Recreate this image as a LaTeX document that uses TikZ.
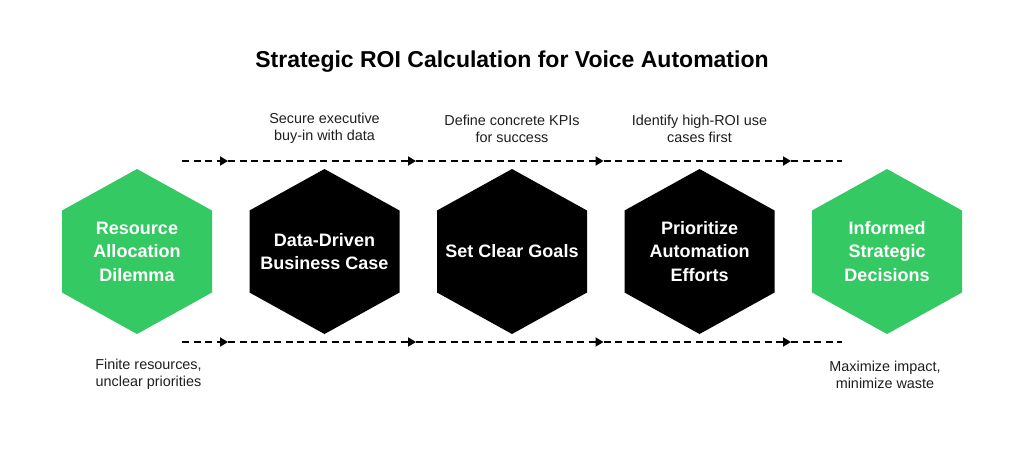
\documentclass[tikz,border=0pt]{standalone}
\usepackage{fontspec}
\setmainfont{Liberation Sans}
\usetikzlibrary{arrows.meta}
\definecolor{hexgreen}{RGB}{52,201,99}
\definecolor{notegray}{RGB}{30,30,30}

\begin{document}
\begin{tikzpicture}[line cap=butt,line join=miter,>={Triangle[length=8pt,width=9pt]},x=1pt,y=-1pt,
    hexlabel/.style={text=white,font=\fontsize{18}{23.5}\selectfont\bfseries,align=center},
    note/.style={text=notegray,font=\fontsize{14.4}{17}\selectfont,align=center},
    flow/.style={->,line width=1.8pt,dash pattern=on 7pt off 4.5pt}]
        \useasboundingbox (0,0) rectangle (1024,451);
        % title
        \node[font=\fontsize{23}{26}\selectfont\bfseries] (title) at (512,62) {Strategic ROI Calculation for Voice Automation};
        % hexagons
        \fill [color=hexgreen] (137,169)-- (212,210.5)-- (212,292.5)-- (137,334)-- (62,292.5)-- (62,210.5)-- cycle;
        \fill [color=black] (324.5,169)-- (399.5,210.5)-- (399.5,292.5)-- (324.5,334)-- (249.5,292.5)-- (249.5,210.5)-- cycle;
        \fill [color=black] (512,169)-- (587,210.5)-- (587,292.5)-- (512,334)-- (437,292.5)-- (437,210.5)-- cycle;
        \fill [color=black] (699.5,169)-- (774.5,210.5)-- (774.5,292.5)-- (699.5,334)-- (624.5,292.5)-- (624.5,210.5)-- cycle;
        \fill [color=hexgreen] (887,169)-- (962,210.5)-- (962,292.5)-- (887,334)-- (812,292.5)-- (812,210.5)-- cycle;
        \node[hexlabel] (dilemma) at (137,251.5) {Resource\\Allocation\\Dilemma};
        \node[hexlabel] (bizcase) at (324.5,251.5) {Data-Driven\\Business Case};
        \node[hexlabel] (goals) at (512,251.5) {Set Clear Goals};
        \node[hexlabel] (prioritize) at (699.5,251.5) {Prioritize\\Automation\\Efforts};
        \node[hexlabel] (decisions) at (887,251.5) {Informed\\Strategic\\Decisions};
        % notes
        \node[note] (bizcasenote) at (324.5,128.5) {Secure executive\\buy-in with data};
        \node[note] (goalsnote) at (512,128.5) {Define concrete KPIs\\for success};
        \node[note] (prioritizenote) at (699.5,128.5) {Identify high-ROI use\\cases first};
        \node[note] (dilemmanote) at (148.5,374.5) {Finite resources,\\unclear priorities};
        \node[note] (decisionsnote) at (885,374.5) {Maximize impact,\\minimize waste};
        % dashed flow lines
        \coordinate (top0) at (182,161);
        \coordinate (top1) at (228,161);
        \coordinate (top2) at (416,161);
        \coordinate (top3) at (603.5,161);
        \coordinate (top4) at (791,161);
        \coordinate (top5) at (842,161);
        \coordinate (bot0) at (182,342);
        \coordinate (bot1) at (228,342);
        \coordinate (bot2) at (416,342);
        \coordinate (bot3) at (603.5,342);
        \coordinate (bot4) at (791,342);
        \coordinate (bot5) at (842,342);
        \draw [flow] (top0)-- (top1);
        \draw [flow] (top1)-- (top2);
        \draw [flow] (top2)-- (top3);
        \draw [flow] (top3)-- (top4);
        \draw [flow,-] (top4)-- (top5);
        \draw [flow] (bot0)-- (bot1);
        \draw [flow] (bot1)-- (bot2);
        \draw [flow] (bot2)-- (bot3);
        \draw [flow] (bot3)-- (bot4);
        \draw [flow,-] (bot4)-- (bot5);
    \end{tikzpicture}
\end{document}
